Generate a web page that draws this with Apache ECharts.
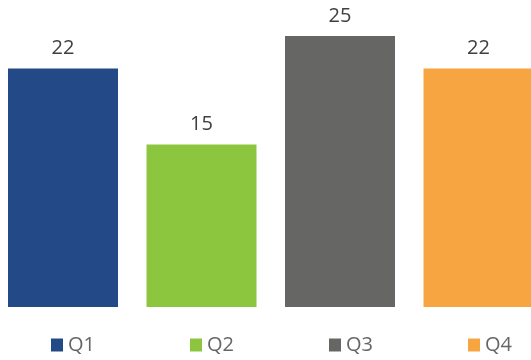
<!DOCTYPE html>
<html>
<head>
<meta charset="utf-8">
<script src="https://cdn.jsdelivr.net/npm/echarts@6/dist/echarts.min.js"></script>
<style>
  html, body { margin: 0; padding: 0; background: #ffffff; }
  #chart { width: 531px; height: 360px; }
</style>
</head>
<body>
<div id="chart"></div>
<script>
// Quarterly totals, one bar per quarter
const quarters = ['Q1', 'Q2', 'Q3', 'Q4'];
const values = [22, 15, 25, 22];
const colors = ['#234a86', '#8cc63f', '#666665', '#f7a540'];

const chart = echarts.init(document.getElementById('chart'), null, { renderer: 'canvas' });

// Each quarter is its own series so it gets a legend entry. The x axis is a
// numeric slot index so the outer bars can run right up to the chart edges.
const series = quarters.map((q, i) => ({
  name: q,
  type: 'bar',
  barWidth: 110,
  barGap: '-100%',
  data: [[i, values[i]]],
  itemStyle: { color: colors[i] },
  label: {
    show: true,
    position: 'top',
    distance: 10,
    color: '#404040',
    fontFamily: 'Open Sans',
    fontSize: 20
  }
}));

chart.setOption({
  animation: false,
  grid: { left: 0, right: 0, top: 36, bottom: 53 },
  xAxis: {
    type: 'value',
    min: -0.4549,
    max: 3.379,
    show: false
  },
  yAxis: {
    type: 'value',
    min: 0,
    max: 25,
    show: false
  },
  legend: {
    left: 51,
    top: 334,
    padding: 0,
    itemWidth: 12,
    itemHeight: 13,
    itemGap: 95,
    icon: 'rect',
    textStyle: {
      color: '#666666',
      fontFamily: 'Open Sans',
      fontSize: 20,
      lineHeight: 22
    },
    data: quarters
  },
  series: series
});
</script>
</body>
</html>
